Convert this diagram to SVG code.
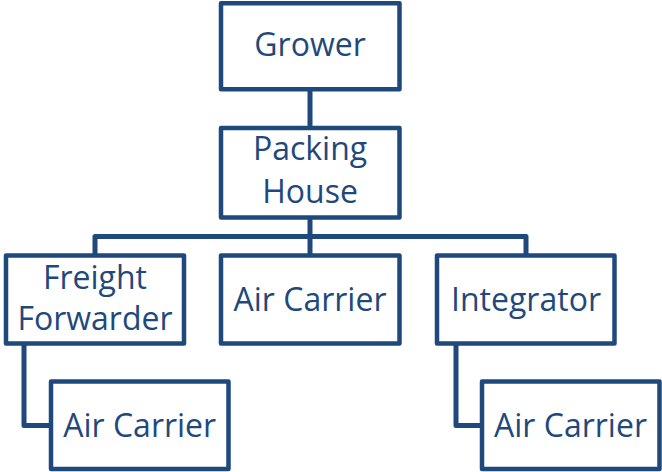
<svg xmlns="http://www.w3.org/2000/svg" width="662" height="472" viewBox="0 0 662 472">
<style>
.box{fill:#fff;stroke:#1F497D;stroke-width:4.5;stroke-linejoin:round}
.lbl{font-family:"Open Sans","Liberation Sans",sans-serif;font-size:32px;fill:#1F497D;text-anchor:middle}
.con{fill:none;stroke:#1F497D;stroke-width:5;stroke-linejoin:round}
</style>
<rect width="662" height="472" fill="#fff"/>
<g id="connectors">
<path class="con" d="M310,89 V128"/>
<path class="con" d="M310,217 V256"/>
<path class="con" d="M95,256 V236.5 H526 V256"/>
<path class="con" d="M24,343 V425.5 H51"/>
<path class="con" d="M456,343 V425.5 H482"/>
</g>
<g id="grower">
<rect class="box" x="221" y="3.3" width="178.5" height="86"/>
<text class="lbl" x="310" y="56">Grower</text>
</g>
<g id="packing-house">
<rect class="box" x="221" y="128" width="178.5" height="89.5"/>
<text class="lbl" x="310" y="160">Packing</text>
<text class="lbl" x="310" y="203">House</text>
</g>
<g id="freight-forwarder">
<rect class="box" x="6" y="255.5" width="178" height="88"/>
<text class="lbl" x="95" y="288.5">Freight</text>
<text class="lbl" x="95" y="329.5">Forwarder</text>
</g>
<g id="air-carrier-mid">
<rect class="box" x="221" y="255.5" width="178.5" height="88"/>
<text class="lbl" x="310" y="311">Air Carrier</text>
</g>
<g id="integrator">
<rect class="box" x="437" y="255.5" width="177.5" height="88"/>
<text class="lbl" x="526" y="311">Integrator</text>
</g>
<g id="air-carrier-ff">
<rect class="box" x="51" y="381.5" width="177.5" height="87.5"/>
<text class="lbl" x="139.7" y="436.7">Air Carrier</text>
</g>
<g id="air-carrier-int">
<rect class="box" x="482" y="381.5" width="177.5" height="87.5"/>
<text class="lbl" x="570.5" y="436.7">Air Carrier</text>
</g>
</svg>
